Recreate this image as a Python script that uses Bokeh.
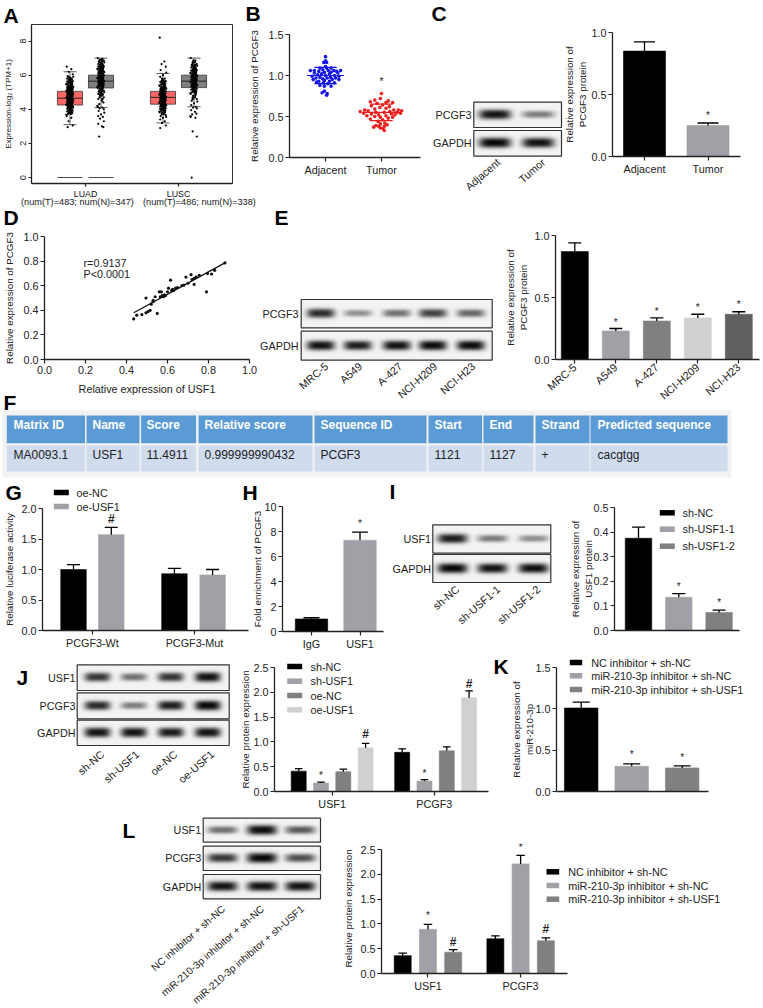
import math
import numpy as np
from bokeh.embed import file_html
from bokeh.resources import INLINE
from bokeh.core.properties import value
from bokeh.layouts import column
from bokeh.models import FixedTicker, Range1d, PrintfTickFormatter
from bokeh.plotting import figure

FONT = "Liberation Sans"
INK = "#222222"
BLACK, GRAY1, GRAY2, LIGHT, DARK = "#000000", "#a0a0a6", "#808080", "#d0d0d0", "#606060"
PAGE_W, PAGE_H = 763, 1008
TILT = math.radians(41)

# ---------- data ----------
# Panel A
A_cats = ["LUAD", "LUSC"]
A_counts = ["(num(T)=483; num(N)=347)", "(num(T)=486; num(N)=338)"]
A_jitter = [-.035, .015, -.015, .03, -.025, .035, 0, -.03, .02, -.01, .03, -.03, .01, .025, -.02, -.04]
LUAD_T = [6.5,6.35,6.2,6.05,5.95,5.9,5.85,5.8,5.75,5.7,5.65,5.62,5.58,5.55,5.5,5.47,5.44,5.4,5.38,5.35,5.32,5.3,5.27,5.25,5.22,5.2,5.18,5.15,5.12,5.1,5.08,5.06,5.03,5.0,4.98,4.96,4.93,4.9,4.88,4.86,4.84,4.81,4.78,4.76,4.74,4.72,4.7,4.67,4.65,4.62,4.6,4.57,4.55,4.52,4.5,4.47,4.45,4.42,4.4,4.37,4.35,4.32,4.3,4.27,4.25,4.22,4.2,4.17,4.14,4.1,4.07,4.03,4.0,3.96,3.92,3.87,3.82,3.78,3.73,3.68,3.6,3.5,3.3,3.05,2.95]
LUAD_N = [7.0,6.95,6.9,6.85,6.8,6.75,6.7,6.65,6.6,6.57,6.53,6.5,6.47,6.43,6.4,6.37,6.33,6.3,6.27,6.23,6.2,6.17,6.13,6.1,6.07,6.03,6.0,5.97,5.93,5.9,5.87,5.83,5.8,5.77,5.73,5.7,5.67,5.63,5.6,5.57,5.53,5.5,5.47,5.43,5.4,5.37,5.33,5.3,5.25,5.2,5.15,5.1,5.05,5.0,4.95,4.9,4.85,4.8,4.7,4.6,4.5,4.4,4.3,4.2,4.15,4.1,4.05,4.0,3.9,3.8,3.7,3.6,3.55,3.45,3.3,3.15,3.0,2.95,2.4]
LUSC_T = [8.2,6.8,6.65,6.5,6.3,6.15,6.0,5.9,5.8,5.7,5.65,5.6,5.55,5.5,5.45,5.4,5.37,5.33,5.3,5.27,5.23,5.2,5.17,5.13,5.1,5.07,5.03,5.0,4.97,4.94,4.91,4.88,4.85,4.82,4.79,4.76,4.73,4.7,4.67,4.64,4.61,4.58,4.55,4.52,4.49,4.46,4.43,4.4,4.37,4.34,4.31,4.28,4.25,4.22,4.19,4.16,4.13,4.1,4.06,4.02,3.98,3.94,3.9,3.86,3.82,3.78,3.72,3.66,3.6,3.55,3.5,3.4,3.3,3.2,3.05,2.9]
LUSC_N = [7.0,6.85,6.75,6.65,6.6,6.55,6.5,6.45,6.4,6.35,6.3,6.27,6.23,6.2,6.17,6.13,6.1,6.07,6.03,6.0,5.97,5.93,5.9,5.87,5.83,5.8,5.77,5.73,5.7,5.67,5.63,5.6,5.57,5.53,5.5,5.47,5.43,5.4,5.37,5.33,5.3,5.25,5.2,5.15,5.1,5.05,5.0,4.95,4.9,4.8,4.7,4.6,4.5,4.45,4.35,4.25,4.15,4.1,4.05,3.95,3.85,3.75,3.7,3.6,3.55,3.5,2.7,2.4,0.0]
A_core_lo = [3.7, 4.6, 3.7, 4.6]
A_core_hi = [5.9, 6.9, 5.8, 6.9]
A_box_q1 = [4.25, 5.25, 4.3, 5.27]
A_box_med = [4.65, 5.65, 4.7, 5.65]
A_box_q3 = [5.05, 6.0, 5.05, 6.0]
A_wh_lo = [3.1, 4.1, 3.2, 4.15]
A_wh_hi = [6.2, 7.0, 6.1, 7.0]

# Panel B
B_cats = ["Adjacent", "Tumor"]
B_adj_y = [1.23,1.18,1.16,1.16,1.11,1.09,1.09,1.09,1.07,1.06,1.06,1.06,1.06,1.06,1.05,1.05,1.04,1.04,1.03,1.03,1.02,1.02,1.01,1.0,1.0,.99,.99,.98,.98,.97,.97,.97,.96,.95,.95,.95,.94,.93,.93,.92,.91,.91,.90,.88,.87,.87,.81,.79,.78,.76]
B_adj_dx = [0,0,-.03,.02,0,-.1,.02,.1,-.05,-.27,-.2,.15,.27,.05,-.12,.2,-.02,.1,-.2,.22,-.07,.07,-.14,0,.16,-.24,.24,-.1,.09,-.17,.03,.18,-.05,-.22,.12,.24,-.02,-.12,.07,-.16,.16,-.04,.04,-.1,.1,-.02,-.02,-.06,.03,.02]
B_tum_y = [.78,.72,.70,.69,.68,.67,.67,.66,.64,.63,.62,.61,.60,.59,.58,.58,.58,.57,.57,.56,.56,.55,.55,.55,.54,.54,.53,.53,.52,.52,.51,.51,.50,.49,.49,.48,.47,.46,.44,.42,.41,.40,.39,.38,.38,.37,.36,.35,.33]
B_tum_dx = [0,-.02,-.12,.12,-.2,.08,.2,-.08,.02,-.18,.14,-.03,.08,-.12,-.3,.3,.22,.36,-.24,.15,-.38,-.1,.05,.28,-.32,.34,-.18,.18,-.05,.24,-.26,.08,-.12,.2,-.02,.12,-.2,.02,-.06,.06,-.02,.1,-.1,-.05,.05,-.14,-.02,.03,.05]
B_mean = [1.0, 0.55]
B_sd_lo = [0.9, 0.45]
B_sd_hi = [1.1, 0.65]

# Panel C
C_cats = ["Adjacent", "Tumor"]
C_vals = [0.85, 0.25]
C_err = [0.925, 0.27]

# Panel D
D_x = [.435,.45,.475,.495,.505,.515,.495,.55,.52,.53,.54,.56,.57,.565,.575,.585,.59,.60,.605,.615,.62,.625,.63,.64,.65,.67,.68,.69,.70,.715,.72,.73,.73,.74,.755,.79,.795,.815,.83,.88,.53,.58]
D_y = [.33,.36,.365,.38,.39,.40,.50,.375,.45,.47,.51,.55,.55,.51,.52,.525,.52,.55,.58,.645,.56,.57,.56,.58,.585,.60,.605,.67,.62,.69,.65,.66,.61,.67,.685,.55,.70,.695,.725,.785,.48,.51]
D_fit_x = [0.435, 0.88]
D_fit_y = [0.38, 0.785]

# Panel E
E_cats = ["MRC-5", "A549", "A-427", "NCI-H209", "NCI-H23"]
E_vals = [0.87, 0.23, 0.31, 0.335, 0.365]
E_err = [0.94, 0.25, 0.335, 0.365, 0.385]
E_star = [None, 0.30, 0.385, 0.417, 0.444]

# Panel F
F_head = ["Matrix ID", "Name", "Score", "Relative score", "Sequence ID", "Start", "End", "Strand", "Predicted sequence"]
F_row = ["MA0093.1", "USF1", "11.4911", "0.999999990432", "PCGF3", "1121", "1127", "+", "cacgtgg"]

# Panel G
G_cats = ["PCGF3-Wt", "PCGF3-Mut"]
G_nc = [1.0, 0.93]
G_nc_err = [1.08, 1.02]
G_usf = [1.57, 0.91]
G_usf_err = [1.69, 1.0]

# Panel H
H_cats = ["IgG", "USF1"]
H_vals = [1.0, 7.3]
H_err = [1.1, 7.95]

# Panel I
I_cats = ["sh-NC", "sh-USF1-1", "sh-USF1-2"]
I_vals = [0.375, 0.135, 0.073]
I_err = [0.42, 0.15, 0.083]

# Panel J
J_groups = ["USF1", "PCGF3"]
J_series = ["sh-NC", "sh-USF1", "oe-NC", "oe-USF1"]
J_vals = [0.41, 0.17, 0.40, 0.88, 0.79, 0.21, 0.82, 1.89]
J_err = [0.46, 0.19, 0.45, 0.97, 0.86, 0.24, 0.90, 2.03]

# Panel K
K_series = ["NC inhibitor + sh-NC", "miR-210-3p inhibitor + sh-NC", "miR-210-3p inhibitor + sh-USF1"]
K_vals = [1.01, 0.305, 0.285]
K_err = [1.08, 0.335, 0.31]

# Panel L
L_vals = [0.36, 0.89, 0.43, 0.70, 2.21, 0.66]
L_err = [0.41, 0.99, 0.48, 0.76, 2.38, 0.72]

# Blot band strengths
BLOT_C = [[.95, .5], [1.0, .95]]
BLOT_E = [[.85, .42, .55, .75, .6], [.95, .9, .95, .98, .98]]
BLOT_I = [[.9, .5, .42], [1.0, .95, .97]]
BLOT_J = [[.8, .55, .8, .95], [.85, .5, .9, 1.0], [.95, .95, .92, .95]]
BLOT_L = [[.55, .98, .65], [.8, 1.0, .7], [.95, .95, .95]]

# ---------- page layer ----------
pg = figure(width=PAGE_W, height=PAGE_H, x_range=Range1d(0, PAGE_W), y_range=Range1d(0, PAGE_H),
            output_backend="svg", toolbar_location=None, min_border=0,
            background_fill_color=None, border_fill_color=None, outline_line_color=None)
pg.axis.visible = False
pg.grid.visible = False


def Y(y):
    return PAGE_H - y


def T(x, y, s, size=10.8, align="left", angle=0.0, bold=False, color=INK):
    pg.text([x], [Y(y)], [s], text_font=value(FONT), text_font_size=value(f"{size}px"),
            text_align=align, text_baseline="middle", angle=angle,
            text_font_style="bold" if bold else "normal", text_color=color)


def box(x0, x1, y0, y1, fill, line=None):
    pg.quad(left=[x0], right=[x1], top=[Y(y0)], bottom=[Y(y1)], fill_color=fill, line_color=line,
            line_width=1.2)


def blot(x0, x1, y0, y1, centers, strengths, half_w, half_h=5.0):
    S = 2
    w, h = int((x1 - x0) * S), int((y1 - y0) * S)
    xs = x0 + (np.arange(w) + .5) / S
    ys = (np.arange(h) + .5) / S - (y1 - y0) / 2
    xx, yy = np.meshgrid(xs, ys)
    dark = np.zeros_like(xx)
    for c, st in zip(centers, strengths):
        band = np.exp(-((xx - c) / half_w) ** 4) * np.exp(-np.abs(yy / (half_h * (.45 + .55 * st))) ** 2.6)
        dark = np.maximum(dark, st * band)
    lum = (244 * (1 - dark) + 8 * dark).astype(np.uint32)
    img = (255 << 24) | (lum << 16) | (lum << 8) | lum
    pg.image_rgba(image=[img.astype(np.uint32)], x=[x0], y=[Y(y1)], dw=[x1 - x0], dh=[y1 - y0])
    box(x0, x1, y0, y1, None, "#333333")


def blot_set(x0, x1, rows, labels, centers, data, half_w, label_x, tick_labels, tick_ends, size=10.8):
    for (y0, y1), lab, st in zip(rows, labels, data):
        blot(x0, x1, y0, y1, centers, st, half_w)
        T(label_x, (y0 + y1) / 2, lab, align="right")
    for lab, (ex, ey) in zip(tick_labels, tick_ends):
        T(ex, ey, lab, size=size, align="right", angle=TILT)


def legend(x0, x1, tx, ys, labels, colors, h=5.5):
    for y, lab, col in zip(ys, labels, colors):
        box(x0, x1, y - h / 2, y + h / 2, col)
        T(tx, y, lab)


# panel letters
for s, x, y in [("A", 3, 15), ("B", 245, 13), ("C", 431, 13), ("D", 3, 217), ("E", 274, 217), ("F", 3, 402),
                ("G", 5, 492), ("H", 242, 492), ("I", 389, 491), ("J", 16, 677), ("K", 493, 666), ("L", 122, 830)]:
    T(x, y, s, size=21, bold=True, color="#000000")

# panel A second tick line, panel D texts
T(20.5, 201.5, A_counts[0], size=9.2)
T(142.5, 201.5, A_counts[1], size=9.2)
T(83, 262, "r=0.9137")
T(83, 273.5, "P<0.0001")

# blots
blot_set(473.3, 561, [(101.7, 127), (130, 155.7)], ["PCGF3", "GAPDH"], [494, 537], BLOT_C, 16, 471,
         C_cats, [(498, 160), (543, 160)])
blot_set(300.7, 491.7, [(299, 327.3), (330.7, 359.7)], ["PCGF3", "GAPDH"], [320, 357, 396, 432, 470], BLOT_E, 14, 298,
         E_cats, [(326, 364), (360, 364), (400, 364), (435, 364), (473, 364)])
blot_set(432.3, 550.3, [(524.3, 552.7), (554, 582)], ["USF1", "GAPDH"], [451.7, 491.7, 532.7], BLOT_I, 15, 430.5,
         I_cats, [(457, 587), (498, 587), (538, 587)])
blot_set(76.7, 228.7, [(664.3, 690), (692.3, 718.3), (719.7, 745)], ["USF1", "PCGF3", "GAPDH"],
         [96.7, 133, 170, 207], BLOT_J, 13, 75, J_series,
         [(102, 752), (137, 752), (175, 752), (212, 752)])
blot_set(202.7, 320, [(817.7, 841.7), (845.7, 870), (874, 898.3)], ["USF1", "PCGF3", "GAPDH"],
         [221.7, 261, 299.3], BLOT_L, 15, 200.7, K_series,
         [(223, 907), (262, 907), (302, 907)], size=10.2)

# table
F_edges = [(6.3, 84.5), (86, 139), (140.6, 195.6), (198, 312), (314, 426), (428, 481.6), (483, 533), (535, 589), (590, 727)]
F_text_x = [13, 92, 146, 204, 320, 434, 489, 541, 597]
box(2, 731, 410, 477, "#f2f2f2")
for (x0, x1), tx, h, v in zip(F_edges, F_text_x, F_head, F_row):
    box(x0, x1, 415, 442.7, "#5b9bd5")
    box(x0, x1, 445, 471, "#d0dcee")
    T(tx, 424, h, size=12, bold=True, color="#ffffff")
    T(tx, 454, v, size=12, color="#222222")

# legends
legend(53.3, 68.3, 76, [492, 506], ["oe-NC", "oe-USF1"], [BLACK, GRAY1])
legend(659.3, 674.3, 682, [512.3, 528.7, 545.7], I_cats, [BLACK, GRAY1, GRAY2])
legend(286.7, 301.7, 310, [666, 680.7, 695, 709.3], J_series, [BLACK, GRAY1, GRAY2, LIGHT])
legend(569.3, 581.7, 590.7, [662, 675.3, 689], K_series, [BLACK, GRAY1, GRAY2])
legend(546, 558.7, 567.7, [871.3, 885, 898.7], K_series, [BLACK, GRAY1, GRAY2])

# ---------- charts ----------
placed = []
ML, MR, MT = 70, 22, 10


def chart(l, r, t, b, ymax, yticks, c0, pitch, xticks, xlabels, ylabel, standoff, fmt="%.1f",
          mb=40, xlabel=None, angle=None, ext=0, ymin=0.0, tick=4, font=10.8, lab=9.8, mr=MR, ml=ML):
    l, r, t, b = round(l), round(r), round(t), round(b)
    per = (ymax - ymin) / (b - t)
    top = t - ext
    p = figure(width=(r - l) + ml + mr, height=(b - top) + MT + mb,
               x_range=Range1d((l - c0) / pitch, (r - c0) / pitch),
               y_range=Range1d(ymin, ymax + ext * per),
               output_backend="svg", toolbar_location=None,
               min_border_left=ml, min_border_right=mr, min_border_top=MT, min_border_bottom=mb,
               background_fill_color=None, border_fill_color=None, outline_line_color=None)
    p.grid.visible = False
    p.yaxis.ticker = FixedTicker(ticks=yticks)
    p.yaxis.formatter = PrintfTickFormatter(format=fmt)
    p.yaxis.bounds = (ymin, ymax)
    p.xaxis.ticker = FixedTicker(ticks=xticks)
    if xlabels:
        p.xaxis.major_label_overrides = dict(zip(xticks, xlabels))
    else:
        p.xaxis.formatter = PrintfTickFormatter(format="%.1f")
    if angle:
        p.xaxis.major_label_orientation = angle
    for ax in (p.xaxis[0], p.yaxis[0]):
        ax.axis_line_color = INK
        ax.axis_line_width = 1.3
        ax.major_tick_line_color = INK
        ax.major_tick_line_width = 1.2
        ax.major_tick_out = tick
        ax.major_tick_in = 0
        ax.minor_tick_line_color = None
        ax.major_label_standoff = 2
        ax.major_label_text_font = FONT
        ax.major_label_text_font_size = f"{font}px"
        ax.major_label_text_color = INK
        ax.axis_label_text_font = FONT
        ax.axis_label_text_font_style = "normal"
        ax.axis_label_text_color = INK
    p.yaxis.axis_label = ylabel
    p.yaxis.axis_label_standoff = standoff
    p.yaxis.axis_label_text_font_size = f"{lab}px"
    if xlabel:
        p.xaxis.axis_label = xlabel
        p.xaxis.axis_label_standoff = 6
        p.xaxis.axis_label_text_font_size = "10.8px"
    placed.append((p, l - ml, top - MT))
    return p


def bars(p, xs, vals, errs, colors, width, cap):
    p.vbar(x=xs, top=vals, width=width, fill_color=colors, line_color=colors, line_width=0.6, bottom=0)
    p.segment(x0=xs, x1=xs, y0=vals, y1=errs, line_color="#000000", line_width=1.3)
    p.segment(x0=[x - cap / 2 for x in xs], x1=[x + cap / 2 for x in xs], y0=errs, y1=errs,
              line_color="#000000", line_width=1.3)


def marks(p, xs, ys, labels):
    for x, y, s in zip(xs, ys, labels):
        if y is None:
            continue
        p.text([x], [y], [s], text_font=value(FONT), text_align="center", text_baseline="middle",
               text_font_size=value("12px" if s == "#" else "10px"),
               text_font_style="bold" if s == "#" else "normal", text_color=INK)


# A
pA = chart(31, 232, 23.5, 183, 8.97, [0, 2, 4, 6, 8], -8, 93, [1, 2], A_cats,
           "Expression-log\u2082 (TPM+1)", 5, fmt="%d", ymin=-0.35, tick=3, font=8.8, lab=8, mb=34, ml=31)
pA.yaxis.major_label_orientation = "vertical"
pA.xaxis.major_label_text_color = "#111111"
pA.outline_line_color = "#333333"
A_x = [0.833, 1.167, 1.833, 2.167]
A_w = 0.27
A_col = ["#ff6666", "#808080", "#ff6666", "#808080"]
pA.quad(left=[x - A_w / 2 for x in A_x], right=[x + A_w / 2 for x in A_x], bottom=A_box_q1, top=A_box_q3,
        fill_color=A_col, line_color="#333333", line_width=0.8)
pA.segment(x0=[x - A_w / 2 for x in A_x], x1=[x + A_w / 2 for x in A_x], y0=A_box_med, y1=A_box_med,
           line_color="#222222", line_width=1)
for ends in (A_wh_lo, A_wh_hi):
    pA.segment(x0=[x - .07 for x in A_x], x1=[x + .07 for x in A_x], y0=ends, y1=ends, line_color="#333333", line_width=0.8)
pA.segment(x0=A_x, x1=A_x, y0=A_wh_lo, y1=A_wh_hi, line_color="#333333", line_width=0.8)
pA.segment(x0=[A_x[0] - A_w / 2, A_x[1] - A_w / 2], x1=[A_x[0] + A_w / 2, A_x[1] + A_w / 2], y0=[0, 0], y1=[0, 0],
           line_color="#333333", line_width=0.9)
for cx, ys, lo, hi in zip(A_x, [LUAD_T, LUAD_N, LUSC_T, LUSC_N], A_core_lo, A_core_hi):
    jit = [A_jitter[i % len(A_jitter)] for i in range(len(ys))]
    pA.scatter([cx + j for j in jit], ys, size=2.2, color="#000000", line_width=0)
    core = [(j, y) for j, y in zip(jit, ys) if lo <= y <= hi]
    pA.scatter([cx - j * .5 for j, _ in core], [y for _, y in core], size=2.4, color="#000000", line_width=0)

# B
pB = chart(289, 420, 34, 157, 1.5, [0, .5, 1, 1.5], 269, 56, [1, 2], B_cats, "Relative expression of PCGF3", 5, ml=48)
pB.scatter([1 + d for d in B_adj_dx], B_adj_y, size=3.6, color="#1414e6", line_width=0)
pB.scatter([2 + d for d in B_tum_dx], B_tum_y, size=3.6, color="#ee1c1c", line_width=0)
pB.segment(x0=[.67, 1.67], x1=[1.33, 2.33], y0=B_mean, y1=B_mean, line_color=["#1414e6", "#ee1c1c"], line_width=1.2)
for ys in (B_sd_lo, B_sd_hi):
    pB.segment(x0=[.8, 1.8], x1=[1.2, 2.2], y0=ys, y1=ys, line_color=["#1414e6", "#ee1c1c"], line_width=1.2)
marks(pB, [2], [0.93], ["*"])

# C
pC = chart(612, 740, 32, 155.7, 1.0, [0, .5, 1], 580.5, 63.5, [1, 2], C_cats,
           "Relative expression of\nPCGF3 protein", 0)
bars(pC, [1, 2], C_vals, C_err, [BLACK, GRAY1], 42 / 63.5, 21 / 63.5)
marks(pC, [2], [0.33], ["*"])

# D
pD = chart(44, 249, 236, 359, 1.0, [0, .2, .4, .6, .8, 1], 44, 205, [0, .2, .4, .6, .8, 1],
           ["0.0", "0.2", "0.4", "0.6", "0.8", "1.0"], "Relative expression of PCGF3", 5, xlabel="Relative expression of USF1", ml=44)
pD.scatter(D_x, D_y, size=3.2, color="#111111", line_width=0)
pD.line(D_fit_x, D_fit_y, line_color="#111111", line_width=1.3)

# E
pE = chart(555, 759, 235.3, 359.3, 1.0, [0, .5, 1], 574.3, 41, [0, 1, 2, 3, 4], E_cats,
           "Relative expression of\nPCGF3 protein", 2, angle=TILT, mb=50, mr=4)
bars(pE, [0, 1, 2, 3, 4], E_vals, E_err, [BLACK, GRAY1, GRAY2, LIGHT, DARK], 27 / 41, 13 / 41)
marks(pE, [0, 1, 2, 3, 4], E_star, ["*"] * 5)

# G
pG = chart(42, 248, 507.7, 630.3, 2.0, [0, .5, 1, 1.5, 2], 73, 37.8, [.5, 3.2], G_cats,
           "Relative luciferase activity", 3, ml=42)
G_xs = [0, 1, 2.67, 3.68]
G_vals = [G_nc[0], G_usf[0], G_nc[1], G_usf[1]]
G_errs = [G_nc_err[0], G_usf_err[0], G_nc_err[1], G_usf_err[1]]
bars(pG, G_xs, G_vals, G_errs, [BLACK, GRAY1, BLACK, GRAY1], 25.5 / 37.8, 13 / 37.8)
marks(pG, [1], [1.82], ["#"])

# H
pH = chart(282, 383, 506, 631, 10, [0, 2, 4, 6, 8, 10], 311, 48.5, [0, 1], H_cats, "Fold enrichment of PCGF3", -2, fmt="%d")
bars(pH, [0, 1], H_vals, H_err, [BLACK, GRAY1], 32.4 / 48.5, 16 / 48.5)
marks(pH, [1], [8.64], ["*"])

# I
pI = chart(614, 739, 506.7, 630.3, 0.5, [0, .1, .2, .3, .4, .5], 638, 40.3, [], None,
           "Relative expression of\nUSF1 protein", -4, mb=16)
bars(pI, [0, 1, 2], I_vals, I_err, [BLACK, GRAY1, GRAY2], 26.5 / 40.3, 13 / 40.3)
marks(pI, [1, 2], [.18, .115], ["*", "*"])

# J
pJ = chart(274, 488, 666.7, 791, 2.5, [0, .5, 1, 1.5, 2, 2.5], 298.2, 22.3, [1.5, 6.08], J_groups,
           "Relative protein expression", -1)
J_xs = [0, 1, 2, 3, 4.64, 5.64, 6.64, 7.64]
bars(pJ, J_xs, J_vals, J_err, [BLACK, GRAY1, GRAY2, LIGHT] * 2, 15 / 22.3, 7.5 / 22.3)
marks(pJ, [1, 3, 5.64, 7.64], [.32, 1.15, .36, 2.17], ["*", "#", "*", "#"])

# K
pK = chart(556, 708, 666.7, 791, 1.5, [0, .5, 1, 1.5], 580.7, 50.5, [], None,
           "Relative expression of\nmiR-210-3p", -3, mb=16)
bars(pK, [0, 1, 2], K_vals, K_err, [BLACK, GRAY1, GRAY2], 33.5 / 50.5, 17 / 50.5)
marks(pK, [1, 2], [.447, .414], ["*", "*"])

# L
pL = chart(381, 567, 849, 973, 2.5, [0, .5, 1, 1.5, 2, 2.5], 402.2, 25.25, [1, 4.67], J_groups,
           "Relative protein expression", 3, mb=28, ext=6)
L_xs = [0, 1, 2, 3.67, 4.67, 5.67]
bars(pL, L_xs, L_vals, L_err, [BLACK, GRAY1, GRAY2] * 2, 17 / 25.25, 8.5 / 25.25)
marks(pL, [1, 2, 4.67, 5.67], [1.17, .63, 2.55, .907], ["*", "#", "*", "#"])


# ---------- page: each figure sits in its own box, so frames are not aligned with one another ----------
def holder(fig, x, y):
    return column(fig, width=fig.width, height=fig.height, sizing_mode="fixed",
                  styles={"position": "absolute", "left": f"{x}px", "top": f"{y}px"})


root = column(holder(pg, 0, 0), *[holder(p, x, y) for p, x, y in placed], width=747, height=992, sizing_mode="fixed",
              styles={"display": "block"})
open("out.html", "w").write(file_html(root, INLINE))
